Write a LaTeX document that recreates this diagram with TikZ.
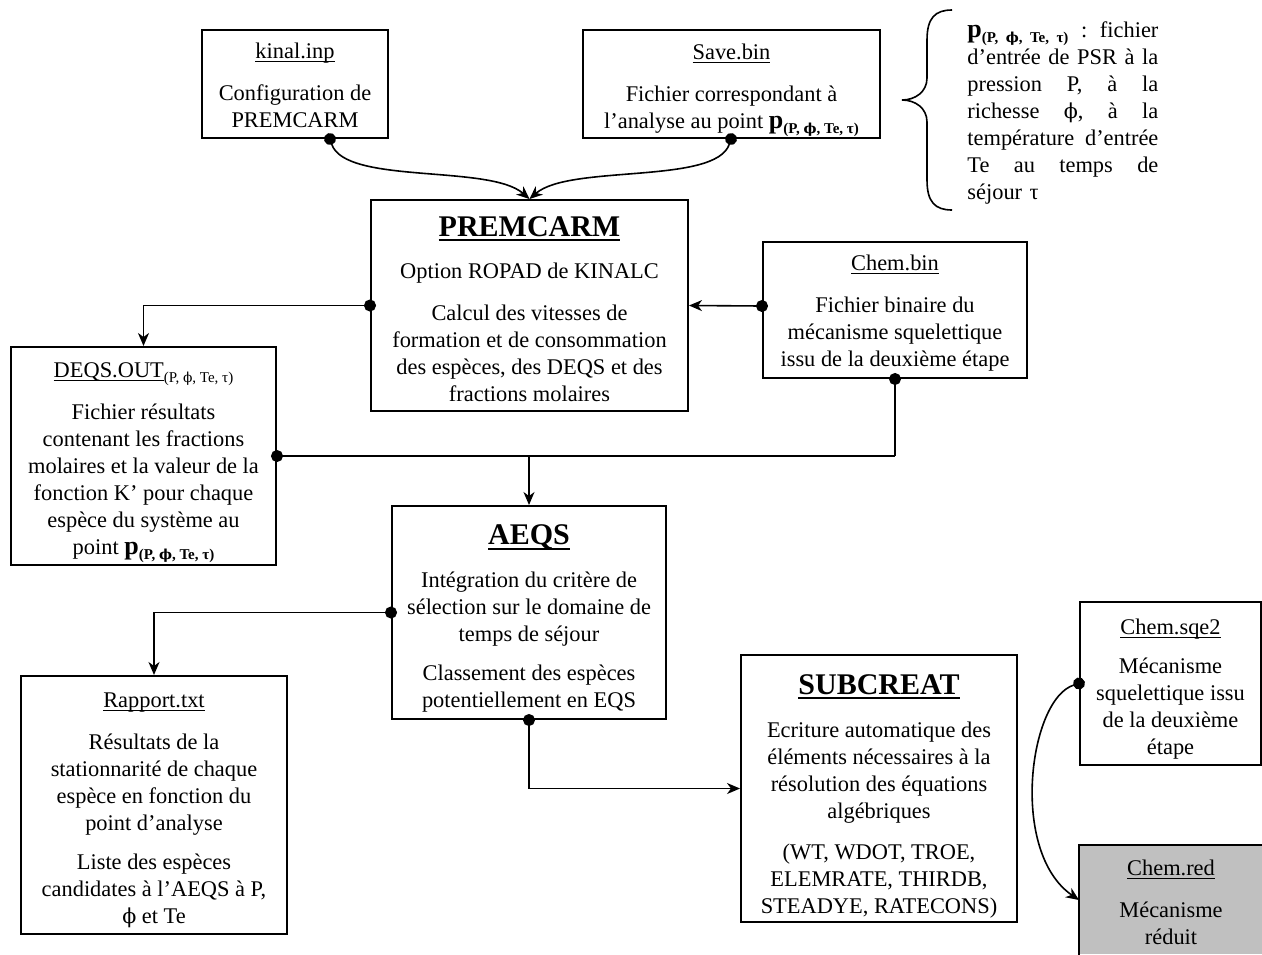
\documentclass[tikz,border=0pt]{standalone}
\usepackage{fontspec}
\setmainfont{Liberation Serif}
\newfontfamily\dvs[Scale=0.92]{DejaVu Serif}
\usetikzlibrary{arrows.meta,calc}
\definecolor{redgray}{RGB}{192,192,192}
\newcommand{\bodyfont}{\fontsize{11.2}{13.5}\selectfont}
\newcommand{\ttlfont}{\fontsize{15}{16}\selectfont\bfseries}
\newcommand{\phig}{{\dvs ϕ}}
\newcommand{\tp}[1]{\rule{0pt}{#1}}
\newcommand{\ulsmall}[1]{\setbox0=\hbox{#1}\rlap{\rule[-1.8pt]{\wd0}{0.5pt}}\box0}
\newcommand{\ulbig}[1]{\setbox0=\hbox{\ttlfont #1}\rlap{\rule[-2.6pt]{\wd0}{1pt}}\box0}
\newcommand{\ppt}{{\fontsize{13}{13}\selectfont\bfseries p}\raisebox{-2.5pt}[0pt][0pt]{\fontsize{7.5}{8}\selectfont\bfseries (P, \phig, Te, τ)}}
\newcommand{\psubreg}{\raisebox{-2.5pt}{\fontsize{7.5}{8}\selectfont (P, \phig, Te, τ)}}
\begin{document}
\begin{tikzpicture}[x=0.5pt,y=-0.5pt,
  box/.style={draw, line width=1pt, inner sep=0pt, align=center, font=\bodyfont},
  con/.style={line width=0.8pt},
  arr/.style={con, -{Stealth[length=6.5pt,width=5.5pt,inset=2pt]}},
  dotarr/.style={con, {Circle[length=6pt]}-{Stealth[length=6.5pt,width=5.5pt,inset=2pt]}, shorten <=-3pt},
  dotline/.style={con, {Circle[length=6pt]}-, shorten <=-3pt}]
\useasboundingbox (0,0) rectangle (1262,954);
% boxes
\node[box, minimum width=93pt, minimum height=54pt] (kinal) at (295,84)
  {\tp{9.2pt}\ulsmall{kinal.inp}\\[7.5pt]Configuration de\\PREMCARM};
\node[box, minimum width=148.5pt, minimum height=54pt] (save) at (731.5,84)
  {\tp{12.4pt}\ulsmall{Save.bin}\\[7.5pt]Fichier correspondant à\\l’analyse au point \ppt};
\node[box, minimum width=158.5pt, minimum height=105.5pt] (prem) at (529.5,305.5)
  {\tp{13.4pt}\ulbig{PREMCARM}\\[7.5pt]Option ROPAD de KINALC\\[7.5pt]Calcul des vitesses de\\formation et de consommation\\des espèces, des DEQS et des\\fractions molaires};
\node[box, minimum width=132pt, minimum height=68pt] (chembin) at (895,310)
  {\tp{11.2pt}\ulsmall{Chem.bin}\\[7.5pt]Fichier binaire du\\mécanisme squelettique\\issu de la deuxième étape};
\node[box, minimum width=132.5pt, minimum height=109pt] (deqs) at (143.5,456)
  {\tp{12.4pt}\ulsmall{DEQS.OUT}\psubreg\\[7.5pt]Fichier résultats\\contenant les fractions\\molaires et la valeur de la\\fonction K’ pour chaque\\espèce du système au\\point \ppt};
\node[box, minimum width=137pt, minimum height=106.5pt] (aeqs) at (529,612.5)
  {\tp{15.9pt}\ulbig{AEQS}\\[8pt]Intégration du critère de\\sélection sur le domaine de\\temps de séjour\\[6pt]Classement des espèces\\potentiellement en EQS};
\node[box, minimum width=133pt, minimum height=129pt] (rapport) at (154,805)
  {\tp{12.7pt}\ulsmall{Rapport.txt}\\[7.5pt]Résultats de la\\stationnarité de chaque\\espèce en fonction du\\point d’analyse\\[6pt]Liste des espèces\\candidates à l’AEQS à P,\\\phig{} et Te};
\node[box, minimum width=138pt, minimum height=133.5pt] (subcreat) at (879,788.5)
  {\tp{17.4pt}\ulbig{SUBCREAT}\\[8pt]Ecriture automatique des\\éléments nécessaires à la\\résolution des équations\\algébriques\\[7pt](WT, WDOT, TROE,\\ELEMRATE, THIRDB,\\STEADYE, RATECONS)};
\node[box, minimum width=90.5pt, minimum height=81.5pt] (sqe2) at (1170.5,683.5)
  {\tp{13.7pt}\ulsmall{Chem.sqe2}\\[6pt]Mécanisme\\squelettique issu\\de la deuxième\\étape};
\node[box, draw=none, fill=redgray, minimum width=91pt, minimum height=54pt] (chemred) at (1171,900)
  {\tp{10.2pt}\ulsmall{Chem.red}\\[7.5pt]Mécanisme\\réduit};
\draw[line width=1pt] (chemred.south west) |- (chemred.north east) -- (chemred.south east);
% brace and note
\draw[line width=0.8pt] (952,10) .. controls (935,10) and (927,18) .. (927,40) -- (927,78)
  .. controls (927,92) and (915,100) .. (902,100)
  .. controls (915,100) and (927,108) .. (927,122) -- (927,180)
  .. controls (927,202) and (935,210) .. (952,210);
\node[anchor=north west, inner sep=0pt, text width=95.5pt, align=left, font=\bodyfont] (note) at (967,21)
  {\ppt\hfill:\hfill fichier\\
   d’entrée\hfill de\hfill PSR\hfill à\hfill la\\
   pression\hfill P,\hfill à\hfill la\\
   richesse\hfill \phig,\hfill à\hfill la\\
   température\hfill d’entrée\\
   Te\hfill au\hfill temps\hfill de\\
   séjour τ};
% connectors
\draw[dotarr] ($(kinal.south)+(35,0)$) .. controls ($(kinal.south)+(50,46)$) and ($(prem.north)+(-40,-35)$) .. (prem.north);
\draw[dotarr] ($(save.south)+(-0.5,0)$) .. controls ($(save.south)+(-15.5,46)$) and ($(prem.north)+(40,-35)$) .. (prem.north);
\draw[dotarr] (prem.west) -| (deqs.north);
\draw[dotarr] ($(chembin.west)+(0,-4)$) -- (prem.east);
\coordinate (jr) at (deqs.east -| chembin.south);
\coordinate (jm) at (deqs.east -| aeqs.north);
\draw[dotline] (deqs.east) -- (jr);
\draw[dotline] (chembin.south) -- (jr);
\draw[arr] (jm) -- (aeqs.north);
\draw[dotarr] (aeqs.west) -| (rapport.north);
\draw[dotarr] (aeqs.south) |- (subcreat.west);
\draw[dotarr] (sqe2.west) .. controls ($(sqe2.west)+(-50,15)$) and ($(chemred.west)+(-70,-48)$) .. (chemred.west);
\end{tikzpicture}
\end{document}
